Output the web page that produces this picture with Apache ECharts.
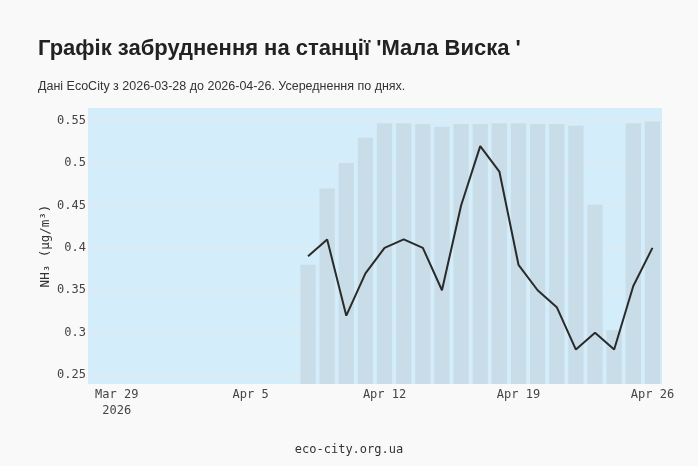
<!DOCTYPE html>
<html>
<head>
<meta charset="utf-8">
<script src="https://cdn.jsdelivr.net/npm/echarts@6/dist/echarts.min.js"></script>
<style>
  html, body { margin: 0; padding: 0; background: #f9f9f9; }
  #chart { width: 698px; height: 466px; }
</style>
</head>
<body>
<div id="chart"></div>
<script>
// daily categories, 2026-03-28 .. 2026-04-26
var days = ['03-28', '03-29', '03-30', '03-31', '04-01', '04-02', '04-03', '04-04', '04-05', '04-06',
            '04-07', '04-08', '04-09', '04-10', '04-11', '04-12', '04-13', '04-14', '04-15', '04-16',
            '04-17', '04-18', '04-19', '04-20', '04-21', '04-22', '04-23', '04-24', '04-25', '04-26'];

// shown tick labels
var tickLabels = {
    '03-29': 'Mar 29\n2026',
    '04-05': 'Apr 5',
    '04-12': 'Apr 12',
    '04-19': 'Apr 19',
    '04-26': 'Apr 26'
};

// daily max (bars)
var maxValues = [null, null, null, null, null, null, null, null, null, null,
                 null, 0.38, 0.47, 0.50, 0.53, 0.547, 0.547, 0.546, 0.543, 0.546,
                 0.546, 0.547, 0.547, 0.546, 0.546, 0.544, 0.451, 0.303, 0.547, 0.549];

// daily mean (line)
var meanValues = [null, null, null, null, null, null, null, null, null, null,
                  null, 0.39, 0.41, 0.32, 0.37, 0.40, 0.41, 0.40, 0.35, 0.45,
                  0.52, 0.49, 0.38, 0.35, 0.33, 0.28, 0.30, 0.28, 0.355, 0.40];

var mono = 'DejaVu Sans Mono';

var chart = echarts.init(document.getElementById('chart'));
chart.setOption({
    backgroundColor: '#f9f9f9',
    animation: false,
    title: [{
        text: "Графік забруднення на станції 'Мала Виска '",
        left: 33,
        top: 33,
        textStyle: {
            fontFamily: 'Liberation Sans',
            fontSize: 22,
            fontWeight: 'bold',
            color: '#222'
        }
    }, {
        text: 'Дані EcoCity з 2026-03-28 до 2026-04-26. Усереднення по днях.',
        left: 33,
        top: 75,
        textStyle: {
            fontFamily: 'Liberation Sans',
            fontSize: 12.5,
            fontWeight: 'normal',
            color: '#333'
        }
    }, {
        text: 'eco-city.org.ua',
        left: 'center',
        top: 439,
        textStyle: {
            fontFamily: mono,
            fontSize: 12,
            fontWeight: 'normal',
            color: '#333'
        }
    }],
    grid: {
        left: 88,
        right: 36,
        top: 108,
        bottom: 82,
        show: true,
        backgroundColor: '#d3edfa',
        borderWidth: 0
    },
    xAxis: {
        type: 'category',
        data: days,
        boundaryGap: true,
        axisLine: { show: false },
        axisTick: { show: false },
        axisLabel: {
            interval: function (i, v) { return !!tickLabels[v]; },
            formatter: function (v) { return tickLabels[v] || ''; },
            fontFamily: mono,
            fontSize: 12,
            color: '#444',
            margin: 3,
            lineHeight: 16
        },
        splitLine: { show: false }
    },
    yAxis: {
        type: 'value',
        min: 0.2394,
        max: 0.565,
        splitNumber: 6,
        name: 'NH₃ (µg/m³)',
        nameLocation: 'middle',
        nameGap: 36,
        nameMoveOverlap: false,
        nameTextStyle: { fontFamily: mono, fontSize: 12.5, color: '#333' },
        axisLine: { show: false },
        axisTick: { show: false },
        axisLabel: {
            fontFamily: mono,
            fontSize: 12,
            color: '#444',
            margin: 2,
            showMinLabel: false,
            showMaxLabel: false,
            formatter: function (v) {
                var r = Math.round(v * 100) / 100;
                if (Math.abs(r * 20 - Math.round(r * 20)) > 1e-6) return '';
                return String(r);
            }
        },
        splitLine: {
            show: true,
            showMinLine: false,
            showMaxLine: false,
            lineStyle: { color: '#ece6e8', width: 1 }
        }
    },
    series: [{
        type: 'bar',
        data: maxValues,
        barCategoryGap: '20%',
        itemStyle: { color: '#c8dde8' },
        clip: true,
        z: 1
    }, {
        type: 'line',
        data: meanValues,
        showSymbol: false,
        symbol: 'none',
        connectNulls: false,
        lineStyle: { color: '#2a2a2a', width: 2 },
        z: 3
    }]
});
</script>
</body>
</html>
